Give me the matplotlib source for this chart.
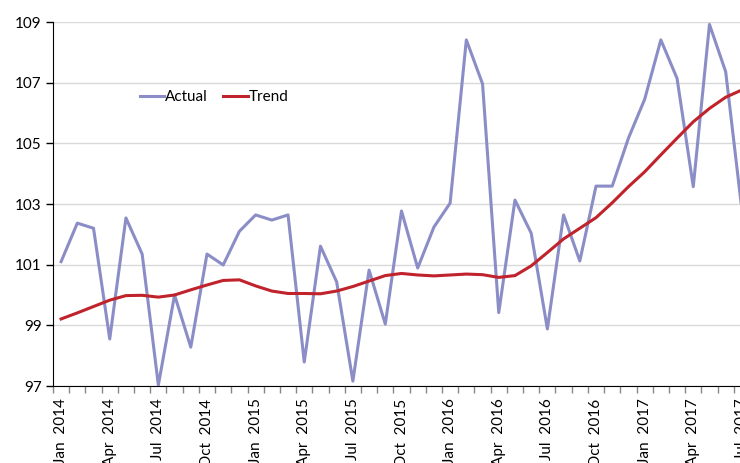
import matplotlib
matplotlib.use("Agg")
from matplotlib import pyplot as plt

plt.rcParams['font.family'] = ['Lato', 'DejaVu Sans']

# monthly data, Jan 2014 to Jul 2017
months = ["Jan", "Feb", "Mar", "Apr", "May", "Jun",
          "Jul", "Aug", "Sep", "Oct", "Nov", "Dec"]
periods = [(months[i % 12], 2014 + i // 12) for i in range(43)]

actual = [101.1, 102.37, 102.2, 98.55, 102.54, 101.35, 97.03, 100.0, 98.28, 101.35,
          100.99, 102.1, 102.64, 102.47, 102.64, 97.79, 101.61, 100.43, 97.16, 100.82,
          99.04, 102.77, 100.89, 102.24, 103.03, 108.41, 106.96, 99.42, 103.13, 102.04,
          98.88, 102.64, 101.12, 103.59, 103.59, 105.17, 106.45, 108.41, 107.14, 103.57,
          108.92, 107.36, 102.8]

trend = [99.21, 99.41, 99.62, 99.83, 99.98, 99.99, 99.93, 100.0, 100.17, 100.33,
         100.48, 100.5, 100.3, 100.13, 100.05, 100.05, 100.04, 100.13, 100.28, 100.46,
         100.64, 100.71, 100.66, 100.63, 100.66, 100.69, 100.67, 100.58, 100.64, 100.96,
         101.4, 101.85, 102.2, 102.55, 103.04, 103.57, 104.06, 104.62, 105.17, 105.71,
         106.15, 106.52, 106.76]

labels = [f"{m}  {y}" for m, y in periods]
x = list(range(len(actual)))

fig = plt.figure(figsize=(7.4, 4.63), dpi=100)
ax = fig.add_axes([53 / 740, 77 / 463, 697 / 740, 364 / 463])

ax.plot(x, actual, color="#8b8dc6", lw=2.2, label="Actual")
ax.plot(x, trend, color="#c0232b", lw=2.2, label="Trend")

ax.set_xlim(-0.5, len(x) - 0.5)
ax.set_ylim(97, 109)
ax.set_yticks(range(97, 110, 2))
ax.tick_params(axis="y", labelsize=11, length=5, width=1, color="#000000", pad=3)
ax.yaxis.grid(True, color="#d9d9d9", lw=1)
ax.set_axisbelow(True)

ax.set_xticks(x[::3])
ax.set_xticklabels(labels[::3], rotation=90, va="top", ha="center")
ax.set_xticks([i - 0.5 for i in range(len(x) + 1)], minor=True)
ax.tick_params(axis="x", which="major", length=0, labelsize=11, pad=9)
ax.tick_params(axis="x", which="minor", length=5, width=1, color="#888888")

for s in ["top", "right"]:
    ax.spines[s].set_visible(False)
ax.spines["left"].set_color("#000000")
ax.spines["bottom"].set_color("#000000")

ax.legend(loc="upper left", bbox_to_anchor=(0.105, 0.85), ncol=2, frameon=False,
          fontsize=11, handlelength=1.6, handletextpad=0.05, columnspacing=1.0)

fig.savefig("out.png", dpi=100)
